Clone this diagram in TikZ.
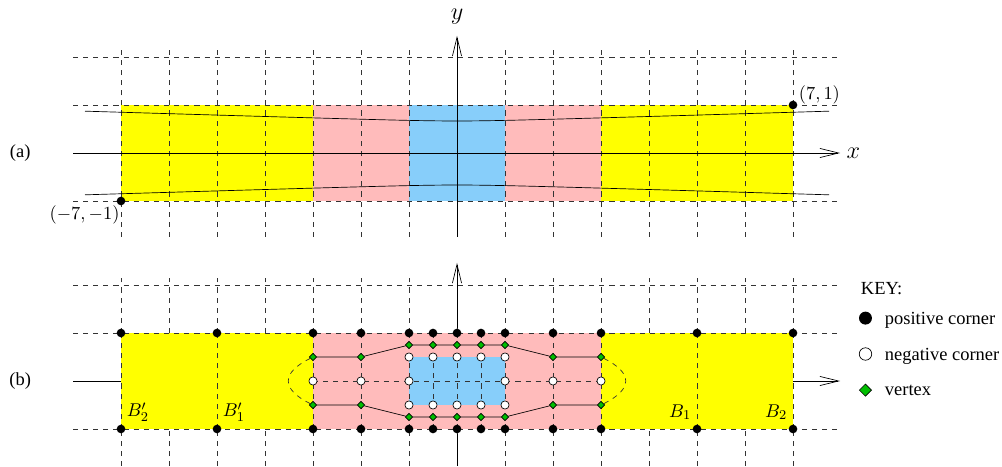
\documentclass[tikz,border=0pt,11pt]{standalone}
\usepackage[no-math]{fontspec}
\setmainfont{Liberation Serif}
\usepackage{amsmath}
\usepackage{tikz}
\usetikzlibrary{arrows.meta,shapes.geometric}
\definecolor{bandyellow}{RGB}{255,255,0}
\definecolor{bandpink}{RGB}{255,187,187}
\definecolor{bandblue}{RGB}{135,206,250}
\definecolor{vertgreen}{RGB}{0,190,0}

\begin{document}
\begin{tikzpicture}[
  grid/.style={dashed, black!80},
  axis/.style={-{Straight Barb[length=3.9mm,width=1.9mm]}},
  poscorner/.style={circle, fill=black, inner sep=0pt, minimum size=1.8mm},
  negcorner/.style={circle, draw, fill=white, inner sep=0pt, minimum size=1.7mm},
  vertex/.style={diamond, draw, fill=vertgreen, inner sep=0pt, minimum size=1.6mm},
  keytext/.style={anchor=base west}
]
  \useasboundingbox (-9.521,-6.521) rectangle (11.354,3.1875);

  % (a)
  \fill[bandyellow] (-7,-1) rectangle (7,1);
  \fill[bandpink]   (-3,-1) rectangle (3,1);
  \fill[bandblue]   (-1,-1) rectangle (1,1);
  \foreach \x in {-7,...,7} \draw[grid] (\x,-1.75) -- (\x,2.15);
  \foreach \y in {-1,1,2} \draw[grid] (-8,\y) -- (8,\y);
  \draw[domain=-7.75:7.75, samples=61, smooth] plot (\x,{0.637+0.03*sqrt(1+\x*\x)});
  \draw[domain=-7.75:7.75, samples=61, smooth] plot (\x,{-0.637-0.03*sqrt(1+\x*\x)});

  \coordinate (xa0) at (-8,0);
  \coordinate (xa1) at (7.98,0);
  \coordinate (ya0) at (0,-1.75);
  \coordinate (ya1) at (0,2.44);
  \draw[axis] (xa0) -- (xa1);
  \draw[axis] (ya0) -- (ya1);
  \node[right] (xlab) at (xa1) {\Large $x$};
  \node (ylab) at (0,2.85) {\Large $y$};

  \node[poscorner] (pne) at (7,1) {};
  \node[poscorner] (psw) at (-7,-1) {};
  \node[anchor=south west, inner sep=1pt] (pnelab) at (7.08,0.98) {$(7,1)$};
  \node[anchor=north east, inner sep=1pt] (pswlab) at (-6.99,-1.05) {$(-7,-1)$};
  \node (alab) at (-9.1,0) {(a)};

  % (b)
  \begin{scope}[yshift=-4.75cm]
    \fill[bandyellow] (-7,-1) rectangle (7,1);
    \fill[bandpink]   (-3,-1) rectangle (3,1);
    \fill[bandblue]   (-1,-0.5) rectangle (1,0.5);
    \foreach \x in {-7,...,7} {
      \draw[grid] (\x,1) -- (\x,2.15);
      \draw[grid] (\x,-1.77) -- (\x,-1);
    }
    \foreach \x in {-7,-5,-3,-2,-1,-0.5,0,0.5,1,2,3,5,7}
      \draw[grid] (\x,-1) -- (\x,1);
    \foreach \y in {-1,1,2} \draw[grid] (-8,\y) -- (8,\y);
    \draw[grid] (-3,0) -- (3,0);

    % corners and vertices
    \foreach \x [count=\i] in {-7,-5,-3,-2,-1,-0.5,0,0.5,1,2,3,5,7} {
      \node[poscorner] (top\i) at (\x,1) {};
      \node[poscorner] (bot\i) at (\x,-1) {};
    }
    \foreach \x [count=\i] in {-3,-2,-1,1,2,3}
      \node[negcorner] (mid\i) at (\x,0) {};
    \foreach \x [count=\i] in {-1,-0.5,0,0.5,1} {
      \node[negcorner] (nu\i) at (\x,0.5) {};
      \node[negcorner] (nl\i) at (\x,-0.5) {};
    }
    \foreach \x/\y [count=\i] in {-3/0.5,-2/0.5,-1/0.75,-0.5/0.75,0/0.75,0.5/0.75,1/0.75,2/0.5,3/0.5} {
      \node[vertex] (du\i) at (\x,\y) {};
      \node[vertex] (dl\i) at (\x,-\y) {};
    }
    \draw (du1) -- (du2) -- (du3) -- (du4) -- (du5) -- (du6) -- (du7) -- (du8) -- (du9);
    \draw (dl1) -- (dl2) -- (dl3) -- (dl4) -- (dl5) -- (dl6) -- (dl7) -- (dl8) -- (dl9);
    \draw[grid] (du1) .. controls (-3.667,0.17) and (-3.667,-0.17) .. (dl1);
    \draw[grid] (du9) .. controls (3.667,0.17) and (3.667,-0.17) .. (dl9);

    % axes
    \coordinate (xb0) at (-8,0);
    \coordinate (xb1) at (-7,0);
    \coordinate (xb2) at (7,0);
    \coordinate (xb3) at (7.98,0);
    \coordinate (yb0) at (0,2.46);
    \coordinate (yb1) at (0,-1.77);
    \draw (xb0) -- (xb1);
    \draw[axis] (xb2) -- (xb3);
    \draw[axis] (top7) -- (yb0);
    \draw (bot7) -- (yb1);

    \node (B2l) at (-6.65,-0.65) {$B'_2$};
    \node (B1l) at (-4.65,-0.65) {$B'_1$};
    \node (B1r) at (4.65,-0.65) {$B_1$};
    \node (B2r) at (6.65,-0.65) {$B_2$};
    \node (blab) at (-9.1,0) {(b)};

    % key
    \node[keytext] (key) at (8.28,1.81) {KEY:};
    \node[poscorner, minimum size=2.7mm] (kpos) at (8.51,1.31) {};
    \node[negcorner, minimum size=2.6mm] (kneg) at (8.51,0.5625) {};
    \node[vertex, minimum size=2.6mm] (kvert) at (8.51,-0.19) {};
    \node[keytext] (kpostext) at (8.78,1.167) {positive corner};
    \node[keytext] (knegtext) at (8.78,0.4375) {negative corner};
    \node[keytext] (kverttext) at (8.78,-0.306) {vertex};
  \end{scope}
\end{tikzpicture}
\end{document}
